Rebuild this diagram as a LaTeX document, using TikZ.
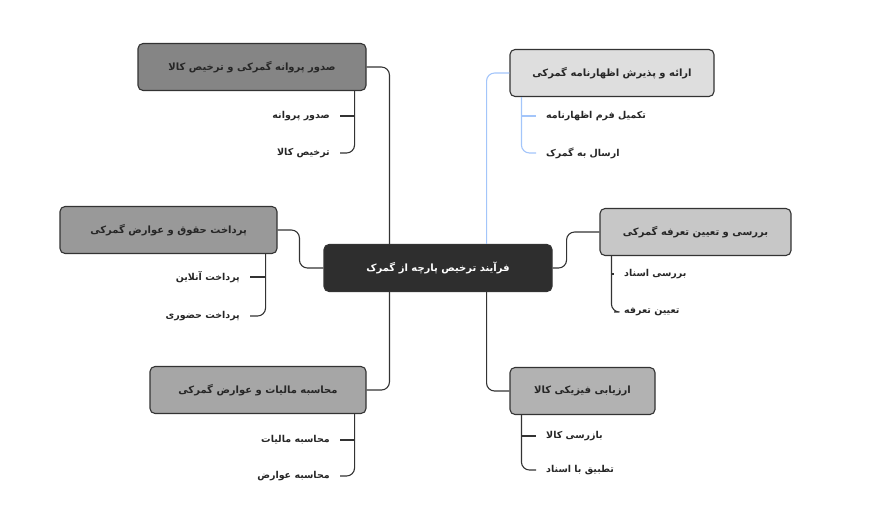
\documentclass[tikz,border=0pt]{standalone}
\usepackage{fontspec}
\usetikzlibrary{calc}
\TeXXeTstate=1
\newfontfamily\arabicfont[Script=Arabic]{DejaVu Sans}
\newcommand{\ar}[1]{\arabicfont\bfseries\beginR #1\endR}
\definecolor{ln}{HTML}{333333}
\definecolor{bl}{HTML}{A3C5FA}
\begin{document}
\begin{tikzpicture}[x=1pt,y=-1pt,
  box/.style={draw=ln,line width=1.1pt,rounded corners=5pt,minimum height=47pt,font=\fontsize{10}{12}\selectfont,text=black!85,inner xsep=8pt},
  kid/.style={font=\fontsize{9.5}{12}\selectfont,text=black!85,inner sep=0pt},
  con/.style={draw=ln,line width=1.1pt,rounded corners=8pt}]
\useasboundingbox (0,0) rectangle (876,509);
\node[box,fill=black!82,text=white,minimum width=228pt] (c) at (438,268) {\ar{فرآیند ترخیص پارچه از گمرک}};
\node[box,fill=black!13,minimum width=204pt] (rt) at (612,73) {\ar{ارائه و پذیرش اظهارنامه گمرکی}};
\node[box,fill=black!22,minimum width=191pt] (r2) at (695.5,232) {\ar{بررسی و تعیین تعرفه گمرکی}};
\node[box,fill=black!30,minimum width=145pt] (r3) at (582.5,391) {\ar{ارزیابی فیزیکی کالا}};
\node[box,fill=black!48,minimum width=228pt] (l1) at (252,67) {\ar{صدور پروانه گمرکی و ترخیص کالا}};
\node[box,fill=black!40,minimum width=217pt] (l2) at (168.5,230) {\ar{پرداخت حقوق و عوارض گمرکی}};
\node[box,fill=black!35,minimum width=216pt] (l3) at (258,390) {\ar{محاسبه مالیات و عوارض گمرکی}};
% main connectors
\draw[con,draw=bl] ($(c.north east)+(-66,0)$) |- (rt.west);
\draw[con] (c.east) -- ++(14,0) |- (r2.west);
\draw[con] ($(c.south east)+(-66,0)$) |- (r3.west);
\draw[con] ($(c.north west)+(66,0)$) |- (l1.east);
\draw[con] (c.west) -- ++(-24,0) |- (l2.east);
\draw[con] ($(c.south west)+(66,0)$) |- (l3.east);
% children
\node[kid,anchor=west] (rt1) at (546,116) {\ar{تکمیل فرم اظهارنامه}};
\node[kid,anchor=west] (rt2) at (546,153) {\ar{ارسال به گمرک}};
\node[kid,anchor=west] (r21) at (624,274) {\ar{بررسی اسناد}};
\node[kid,anchor=west] (r22) at (624,312) {\ar{تعیین تعرفه}};
\node[kid,anchor=west] (r31) at (546,436) {\ar{بازرسی کالا}};
\node[kid,anchor=west] (r32) at (546,470) {\ar{تطبیق با اسناد}};
\node[kid,anchor=east] (l11) at (330,116) {\ar{صدور پروانه}};
\node[kid,anchor=east] (l12) at (330,153) {\ar{ترخیص کالا}};
\node[kid,anchor=east] (l21) at (240,277) {\ar{پرداخت آنلاین}};
\node[kid,anchor=east] (l22) at (240,316) {\ar{پرداخت حضوری}};
\node[kid,anchor=east] (l31) at (330,440) {\ar{محاسبه مالیات}};
\node[kid,anchor=east] (l32) at (330,476) {\ar{محاسبه عوارض}};
% brackets right
\foreach \b/\p/\q/\col in {rt/rt1/rt2/bl, r2/r21/r22/ln, r3/r31/r32/ln}{
  \coordinate (bx) at ($(\b.south west)+(12,0)$);
  \draw[con,draw=\col] (bx) |- ($(\q.west)+(-10,0)$);
  \draw[con,draw=\col] (bx |- \p) -- ($(\p.west)+(-10,0)$);
}
\foreach \b/\p/\q in {l1/l11/l12, l2/l21/l22, l3/l31/l32}{
  \coordinate (bx) at ($(\b.south east)+(-12,0)$);
  \draw[con] (bx) |- ($(\q.east)+(10,0)$);
  \draw[con] (bx |- \p) -- ($(\p.east)+(10,0)$);
}
\end{tikzpicture}
\end{document}
